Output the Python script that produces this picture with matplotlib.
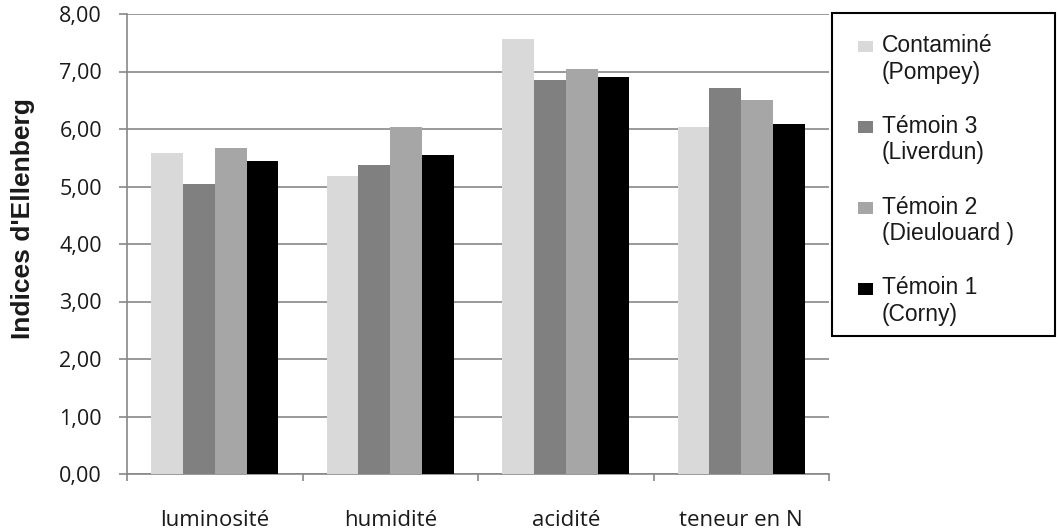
import matplotlib.pyplot as plt
import numpy as np
from matplotlib.ticker import FuncFormatter
from matplotlib.patches import Rectangle

categories = ["luminosité", "humidité", "acidité", "teneur en N"]
series_names = ["Contaminé\n(Pompey)", "Témoin 3\n(Liverdun)",
                "Témoin 2\n(Dieulouard )", "Témoin 1\n(Corny)"]
contamine = [5.58, 5.19, 7.56, 6.03]
temoin3 = [5.05, 5.38, 6.86, 6.71]
temoin2 = [5.67, 6.04, 7.05, 6.51]
temoin1 = [5.44, 5.55, 6.90, 6.09]
colors = ["#d9d9d9", "#808080", "#a6a6a6", "#000000"]

fig = plt.figure(figsize=(10.58, 5.32), dpi=100)
ax = fig.add_axes([127 / 1058, 1 - 474 / 532, (829 - 127) / 1058, (474 - 14) / 532])

x = np.arange(len(categories))
w = 0.181
for i, (vals, name, c) in enumerate(zip([contamine, temoin3, temoin2, temoin1], series_names, colors)):
    ax.bar(x + (i - 1.5) * w, vals, w, color=c, label=name, zorder=3)

ax.set_xlim(-0.5, len(categories) - 0.5)
ax.set_ylim(0, 8)
ax.set_yticks(np.arange(0, 9, 1))
ax.yaxis.set_major_formatter(FuncFormatter(lambda v, p: f"{v:.2f}".replace(".", ",")))
ax.grid(axis="y", color="#878787", lw=1.2, zorder=0)

ax.set_xticks(x)
ax.set_xticklabels(categories, fontsize=16, fontfamily="Open Sans", color="#1a1a1a")
ax.set_xticks(np.arange(-0.5, len(categories)), minor=True)
ax.tick_params(axis="x", which="major", length=0, pad=26)
ax.tick_params(axis="x", which="minor", length=5, color="#878787", width=1.2)
ax.tick_params(axis="y", length=6, color="#878787", width=1.2, labelsize=15.5, pad=12,
               labelcolor="#1a1a1a")
for lab in ax.get_yticklabels():
    lab.set_fontfamily("Open Sans")

for s in ["top", "right"]:
    ax.spines[s].set_visible(False)
for s in ["left", "bottom"]:
    ax.spines[s].set_color("#878787")
    ax.spines[s].set_linewidth(1.2)

fig.text(23 / 1058, 1 - 219 / 532, "Indices d'Ellenberg", rotation=90,
         ha="center", va="center", fontsize=19, fontweight="bold",
         fontfamily="Liberation Sans", color="#1a1a1a")

# legend box
fig.add_artist(Rectangle((832 / 1058, 1 - 336 / 532), 223 / 1058, 323 / 532,
                         transform=fig.transFigure, fill=False, ec="black", lw=1.5))
leg = fig.legend(loc="upper left", bbox_to_anchor=(858 / 1058, 1 - 34 / 532),
                 prop={"family": "Liberation Sans", "size": 16.5},
                 frameon=False, handlelength=0.7, handleheight=0.7, handletextpad=0.35,
                 labelspacing=1.36, borderpad=0, borderaxespad=0)
for t in leg.get_texts():
    t.set_color("#1a1a1a")
for h in leg.legend_handles:
    y0, hh = h.get_y(), h.get_height()
    h.set_height(8.5)
    h.set_width(10.5)
    h.set_y(y0 + hh / 2 - 4.25 + 9.5)

fig.savefig("out.png", dpi=100)
